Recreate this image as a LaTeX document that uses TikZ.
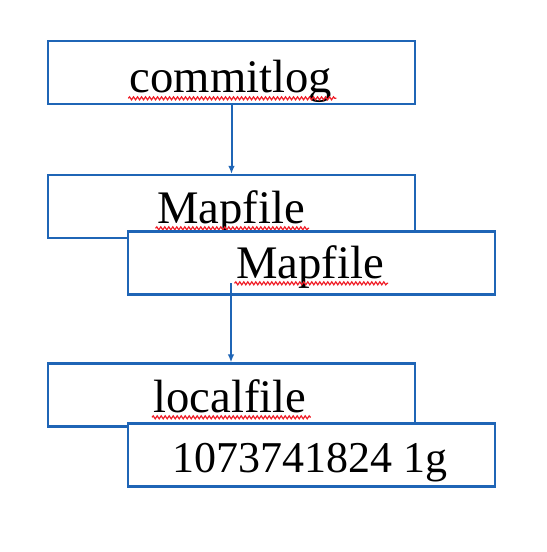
\documentclass[tikz,border=0pt]{standalone}
\usepackage{fontspec}
\setmainfont{Liberation Serif}
\usetikzlibrary{arrows.meta,decorations.pathmorphing}
\definecolor{boxblue}{RGB}{31,101,182}
\definecolor{wavered}{RGB}{240,30,40}
\tikzset{
  filebox/.style={draw=boxblue, line width=1.7pt, fill=white, minimum width=275.25pt, minimum height=47.25pt, inner sep=0pt},
  filetext/.style={anchor=base, inner sep=0pt, font=\fontsize{35}{40}\selectfont},
  arr/.style={draw=boxblue, line width=1.5pt, -{Latex[length=6pt,width=5pt]}},
  squiggle/.style={draw=wavered, line width=0.9pt, decorate, decoration={snake, segment length=3pt, amplitude=1.1pt}}
}
\newcommand{\underwave}[1]{\draw[squiggle] ([xshift=-1pt,yshift=-4pt]#1.base west) -- ([xshift=3pt,yshift=-4pt]#1.base east);}
\begin{document}
\begin{tikzpicture}[x=0.75pt, y=-0.75pt]
\useasboundingbox (0,0) rectangle (546,552);
% commitlog
\node[filebox] (cl) at (231.5,72.5){};
\node[filetext] (cltext) at (231,93){commitlog};
\underwave{cltext}
% mapfiles
\node[filebox] (mf1) at (231.5,206.5){};
\node[filetext] (mf1text) at (231,223){Mapfile};
\underwave{mf1text}
\node[filebox] (mf2) at (311.5,263){};
\node[filetext] (mf2text) at (310,278){Mapfile};
\underwave{mf2text}
% localfile
\node[filebox] (lf) at (231.5,395){};
\node[filetext] (lftext) at (230,412){localfile};
\underwave{lftext}
\node[filebox] (sz) at (311.5,455){};
\node[filetext, font=\fontsize{33}{40}\selectfont] (sztext) at (310,472){1073741824 1g};
% arrows
\coordinate (mfout) at (231,283);
\draw[arr](cl) -- (mf1);
\draw[arr](mfout) -- (mfout |- lf.north);
\end{tikzpicture}
\end{document}
